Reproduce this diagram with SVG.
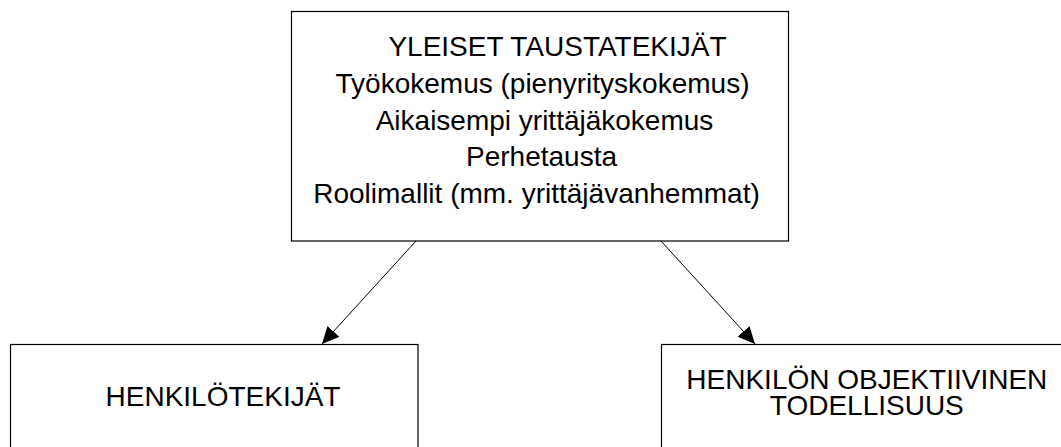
<svg xmlns="http://www.w3.org/2000/svg" width="1061" height="447" viewBox="0 0 1061 447">
<style>
.box{fill:#fff;stroke:#000;stroke-width:1.2}
.t{font-family:"Liberation Sans",Arial,sans-serif;font-size:28px;fill:#000;text-anchor:middle}
.c{stroke:#000;stroke-width:1;fill:none;marker-end:url(#ah)}
</style>
<defs>
<marker id="ah" markerUnits="userSpaceOnUse" markerWidth="20" markerHeight="20" refX="17" refY="8" orient="auto">
<path d="M0,0 L17,8 L0,16 Z" fill="#000"/>
</marker>
</defs>
<rect width="1061" height="447" fill="#fff"/>
<g id="node-top">
<rect class="box" x="291.5" y="11.5" width="497" height="229.5"/>
<text class="t" x="557.5" y="56">YLEISET TAUSTATEKIJÄT</text>
<text class="t" x="542.5" y="93">Työkokemus (pienyrityskokemus)</text>
<text class="t" x="544.5" y="130">Aikaisempi yrittäjäkokemus</text>
<text class="t" x="541.5" y="166">Perhetausta</text>
<text class="t" x="536.5" y="203">Roolimallit (mm. yrittäjävanhemmat)</text>
</g>
<g id="node-left">
<rect class="box" x="10.5" y="344.5" width="407.5" height="110"/>
<text class="t" x="223" y="405.5">HENKILÖTEKIJÄT</text>
</g>
<g id="node-right">
<rect class="box" x="661.5" y="344.5" width="410" height="110"/>
<text class="t" x="866.8" y="388.5">HENKILÖN OBJEKTIIVINEN</text>
<text class="t" x="866.8" y="415">TODELLISUUS</text>
</g>
<g id="connectors">
<line class="c" x1="416" y1="241" x2="322" y2="344"/>
<line class="c" x1="661" y1="241" x2="755" y2="344"/>
</g>
</svg>
